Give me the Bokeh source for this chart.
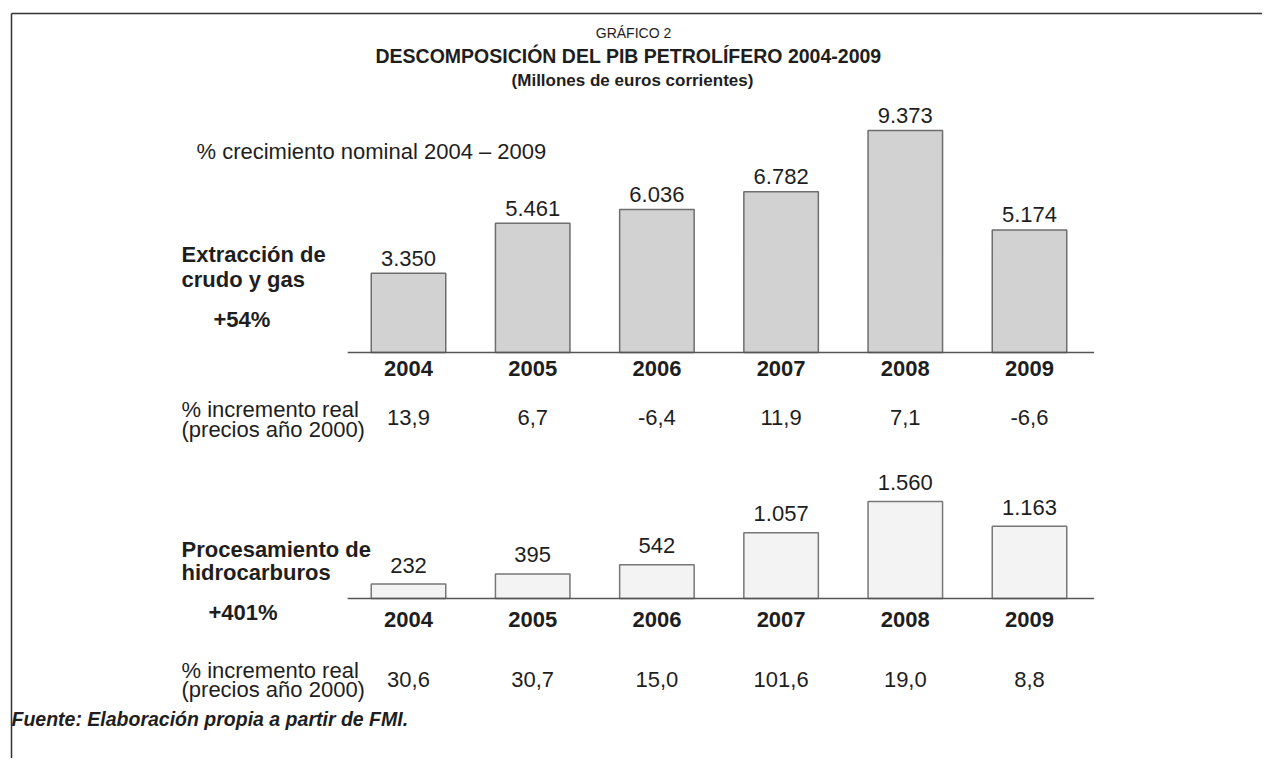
from bokeh.plotting import figure
from bokeh.models import Range1d
from bokeh.core.properties import value
from bokeh.embed import file_html
from bokeh.resources import INLINE

# ---------------- data ----------------
years = [2004, 2005, 2006, 2007, 2008, 2009]
extraccion = [3350, 5461, 6036, 6782, 9373, 5174]
extraccion_real = [13.9, 6.7, -6.4, 11.9, 7.1, -6.6]
procesamiento = [232, 395, 542, 1057, 1560, 1163]
procesamiento_real = [30.6, 30.7, 15.0, 101.6, 19.0, 8.8]

title_1 = "GRÁFICO 2"
title_2 = "DESCOMPOSICIÓN DEL PIB PETROLÍFERO 2004-2009"
title_3 = "(Millones de euros corrientes)"
nominal_label = "% crecimiento nominal 2004 – 2009"
serie_1 = ["Extracción de", "crudo y gas"]
serie_1_growth = "+54%"
serie_2 = ["Procesamiento de", "hidrocarburos"]
serie_2_growth = "+401%"
real_label = ["% incremento real", "(precios año 2000)"]
source = "Fuente: Elaboración propia a partir de FMI."


def miles(v):
    return f"{v:,}".replace(",", ".")


def dec(v):
    return f"{v:.1f}".replace(".", ",")


# ---------------- layout ----------------
W, H = 1262, 758
FONT = value("Liberation Sans")
TXT = "#1e1e1e"
FS = "22px"
D = 8  # rendered baseline sits ~8px below the anchor for 22px text

x0_px, step_px = 408.0, 124.2
top_base, top_scale = 352.0, 222.0 / 9373.0
bot_base, bot_scale = 598.0, 97.0 / 1560.0

p = figure(width=W, height=H, output_backend="svg", toolbar_location=None,
           x_range=Range1d(0, W), y_range=Range1d(H, 0),
           min_border=0, outline_line_color=None)
p.xaxis.visible = False
p.yaxis.visible = False
p.grid.visible = False
p.background_fill_color = "white"
p.border_fill_color = "white"

p.extra_x_ranges = {"yr": Range1d(years[0] - x0_px / step_px, years[0] + (W - x0_px) / step_px)}
tb = H - top_base
bb = H - bot_base
p.extra_y_ranges = {
    "top": Range1d(-tb / top_scale, (H - tb) / top_scale),
    "bot": Range1d(-bb / bot_scale, (H - bb) / bot_scale),
}

# frame lines (page box)
p.segment(x0=[11, 11], y0=[13, 13], x1=[W, 11], y1=[13, H], line_color="#333333", line_width=1.5)

# titles
p.text(x=[633], y=[32], text=[title_1], text_font=FONT, text_font_size="14px",
       text_align="center", text_baseline="alphabetic", text_color=TXT)
p.text(x=[628], y=[55], text=[title_2], text_font=FONT, text_font_size="19.5px", text_font_style="bold",
       text_align="center", text_baseline="alphabetic", text_color=TXT)
p.text(x=[632], y=[80], text=[title_3], text_font=FONT, text_font_size="17px", text_font_style="bold",
       text_align="center", text_baseline="alphabetic", text_color=TXT)

p.text(x=[196], y=[159 - D], text=[nominal_label], text_font=FONT, text_font_size=FS,
       text_align="left", text_baseline="alphabetic", text_color=TXT)

# ---------- top panel ----------
p.vbar(x=years, top=extraccion, bottom=0, width=0.6, x_range_name="yr", y_range_name="top",
       fill_color="#d2d2d2", line_color="#6e6e6e", line_width=1.5)
p.segment(x0=[years[0] - 0.49], x1=[years[-1] + 0.52], y0=[0], y1=[0],
          x_range_name="yr", y_range_name="top", line_color="#555555", line_width=1.5)
p.text(x=years, y=extraccion, text=[miles(v) for v in extraccion], x_range_name="yr", y_range_name="top",
       y_offset=-7 - D, text_font=FONT, text_font_size=FS, text_align="center",
       text_baseline="alphabetic", text_color=TXT)
p.text(x=years, y=[376 - D] * len(years), text=[str(y) for y in years], x_range_name="yr",
       text_font=FONT, text_font_size=FS, text_font_style="bold", text_align="center",
       text_baseline="alphabetic", text_color=TXT)
p.text(x=years, y=[425 - D] * len(years), text=[dec(v) for v in extraccion_real], x_range_name="yr",
       text_font=FONT, text_font_size=FS, text_align="center",
       text_baseline="alphabetic", text_color=TXT)

p.text(x=[181, 181], y=[262 - D, 287 - D], text=serie_1, text_font=FONT, text_font_size=FS,
       text_font_style="bold", text_align="left", text_baseline="alphabetic", text_color=TXT)
p.text(x=[213], y=[327 - D], text=[serie_1_growth], text_font=FONT, text_font_size=FS,
       text_font_style="bold", text_align="left", text_baseline="alphabetic", text_color=TXT)
p.text(x=[181, 181], y=[417 - D, 437 - D], text=real_label, text_font=FONT, text_font_size=FS,
       text_align="left", text_baseline="alphabetic", text_color=TXT)

# ---------- bottom panel ----------
p.vbar(x=years, top=procesamiento, bottom=0, width=0.6, x_range_name="yr", y_range_name="bot",
       fill_color="#f3f3f3", line_color="#777777", line_width=1.5)
p.segment(x0=[years[0] - 0.49], x1=[years[-1] + 0.52], y0=[0], y1=[0],
          x_range_name="yr", y_range_name="bot", line_color="#555555", line_width=1.5)
p.text(x=years, y=procesamiento, text=[miles(v) for v in procesamiento], x_range_name="yr", y_range_name="bot",
       y_offset=-11 - D, text_font=FONT, text_font_size=FS, text_align="center",
       text_baseline="alphabetic", text_color=TXT)
p.text(x=years, y=[627 - D] * len(years), text=[str(y) for y in years], x_range_name="yr",
       text_font=FONT, text_font_size=FS, text_font_style="bold", text_align="center",
       text_baseline="alphabetic", text_color=TXT)
p.text(x=years, y=[687 - D] * len(years), text=[dec(v) for v in procesamiento_real], x_range_name="yr",
       text_font=FONT, text_font_size=FS, text_align="center",
       text_baseline="alphabetic", text_color=TXT)

p.text(x=[181, 181], y=[557 - D, 580 - D], text=serie_2, text_font=FONT, text_font_size=FS,
       text_font_style="bold", text_align="left", text_baseline="alphabetic", text_color=TXT)
p.text(x=[208], y=[620 - D], text=[serie_2_growth], text_font=FONT, text_font_size=FS,
       text_font_style="bold", text_align="left", text_baseline="alphabetic", text_color=TXT)
p.text(x=[181, 181], y=[678 - D, 697 - D], text=real_label, text_font=FONT, text_font_size=FS,
       text_align="left", text_baseline="alphabetic", text_color=TXT)

# source
p.text(x=[11], y=[725 - 7], text=[source], text_font=FONT, text_font_size="19.5px",
       text_font_style="bold italic", text_align="left", text_baseline="alphabetic", text_color=TXT)

open("out.html", "w").write(file_html(p, INLINE))
